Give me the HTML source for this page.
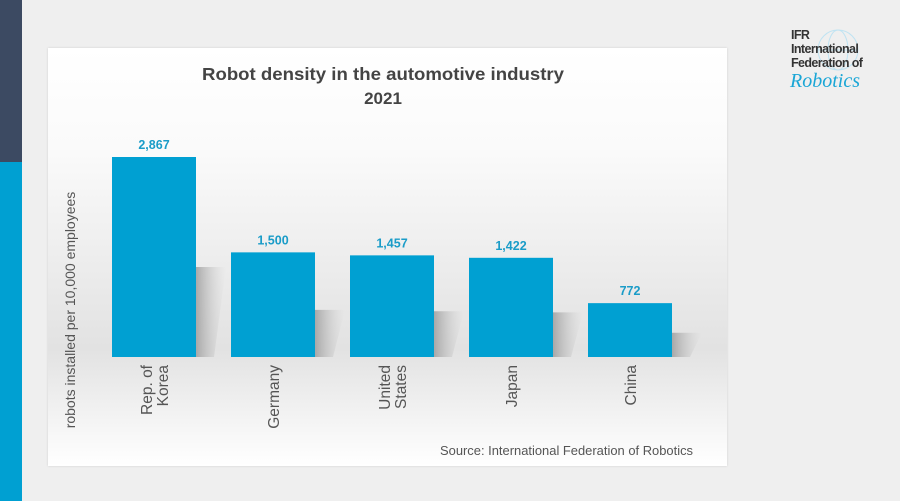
<!DOCTYPE html>
<html><head><meta charset="utf-8">
<style>
body{margin:0;width:900px;height:501px;background:#efefef;overflow:hidden;font-family:"Liberation Sans",sans-serif;position:relative}
.abs{position:absolute}
</style></head><body>
<div class="abs" style="left:0;top:0;width:22px;height:162px;background:#3c4a62"></div>
<div class="abs" style="left:0;top:162px;width:22px;height:339px;background:#00a0d2"></div>
<div class="abs" style="left:790px;top:28px;width:110px;height:70px">
<svg width="110" height="70" style="position:absolute;left:0;top:0">
<circle cx="48" cy="22" r="20" fill="none" stroke="#bfe3f2" stroke-width="1"/>
<ellipse cx="48" cy="22" rx="10" ry="20" fill="none" stroke="#bfe3f2" stroke-width="1"/>
<line x1="28" y1="22" x2="68" y2="22" stroke="#bfe3f2"/>
</svg>
<div class="abs" style="left:1px;top:0;font-size:12.5px;font-weight:bold;color:#333;line-height:14px;letter-spacing:-0.6px">IFR<br>International<br>Federation of</div>
<div class="abs" style="left:0;top:42px;font-size:20px;font-style:italic;color:#1aa6d6;font-family:'Liberation Serif',serif">Robotics</div>
</div>
<div class="abs" style="left:48px;top:48px;width:679px;height:418px;background:linear-gradient(#fff 0%,#fafafa 25%,#e2e2e2 72%,#fff 100%);box-shadow:0 0 2px #ccc">
<svg id="chart" width="679" height="418" style="position:absolute;left:0;top:0"></svg>
</div>
<script>
const categories=[["Rep. of","Korea"],["Germany"],["United","States"],["Japan"],["China"]];
const values=[2867,1500,1457,1422,772];
const valueLabels=["2,867","1,500","1,457","1,422","772"];
const NS="http://www.w3.org/2000/svg";
const svg=document.getElementById('chart');
const baseY=309, yScale=200/2867, x0=64, step=119, bw=84;
function y(v){return baseY-v*yScale;}
function xb(i){return x0+i*step;}
function mk(tag,attrs,parent){const e=document.createElementNS(NS,tag);for(const k in attrs)e.setAttribute(k,attrs[k]);(parent||svg).appendChild(e);return e;}
const defs=mk('defs',{});
const g=mk('linearGradient',{id:'sh',x1:0,y1:0,x2:1,y2:0},defs);
mk('stop',{offset:0,'stop-color':'#999','stop-opacity':0.8},g);
mk('stop',{offset:1,'stop-color':'#ccc','stop-opacity':0},g);
let t=mk('text',{x:335,y:32,'text-anchor':'middle','font-size':17.5,'font-weight':'bold',fill:'#444',textLength:362,lengthAdjust:'spacingAndGlyphs'});
t.textContent='Robot density in the automotive industry';


t=mk('text',{x:335,y:56,'text-anchor':'middle','font-size':17,'font-weight':'bold',fill:'#444'});
t.textContent='2021';


t=mk('text',{x:0,y:0,'text-anchor':'middle','font-size':14,fill:'#555',transform:'translate(27,262) rotate(-90)'});
t.textContent='robots installed per 10,000 employees';


values.forEach((v,i)=>{
  const x=xb(i), top=y(v), h=baseY-top;
  const sh=mk('polygon',{points:`${x+bw},${top+h*0.55} ${x+bw+30},${top+h*0.55} ${x+bw+18},${baseY} ${x+bw},${baseY}`,fill:'url(#sh)'});
  
  
  const r=mk('rect',{x:x,y:top,width:bw,height:h,fill:'#00a0d2'});
  
  
  const vl=mk('text',{x:x+bw/2,y:top-8,'text-anchor':'middle','font-size':12.5,'font-weight':'bold',fill:'#1a9cc8'});
  vl.textContent=valueLabels[i];
  
  
  const lines=categories[i];
  lines.forEach((ln,j)=>{
    const cx=x+bw/2+(j-(lines.length-1)/2)*16+6;
    const tl=mk('text',{x:0,y:0,'text-anchor':'end','font-size':15.5,fill:'#555',transform:`translate(${cx},${baseY+8}) rotate(-90)`});
    tl.textContent=ln;
    
    
  });
});
t=mk('text',{x:392,y:407,'font-size':12.5,fill:'#555',textLength:253,lengthAdjust:'spacingAndGlyphs'});
t.textContent='Source: International  Federation of Robotics';


</script>
</body></html>
